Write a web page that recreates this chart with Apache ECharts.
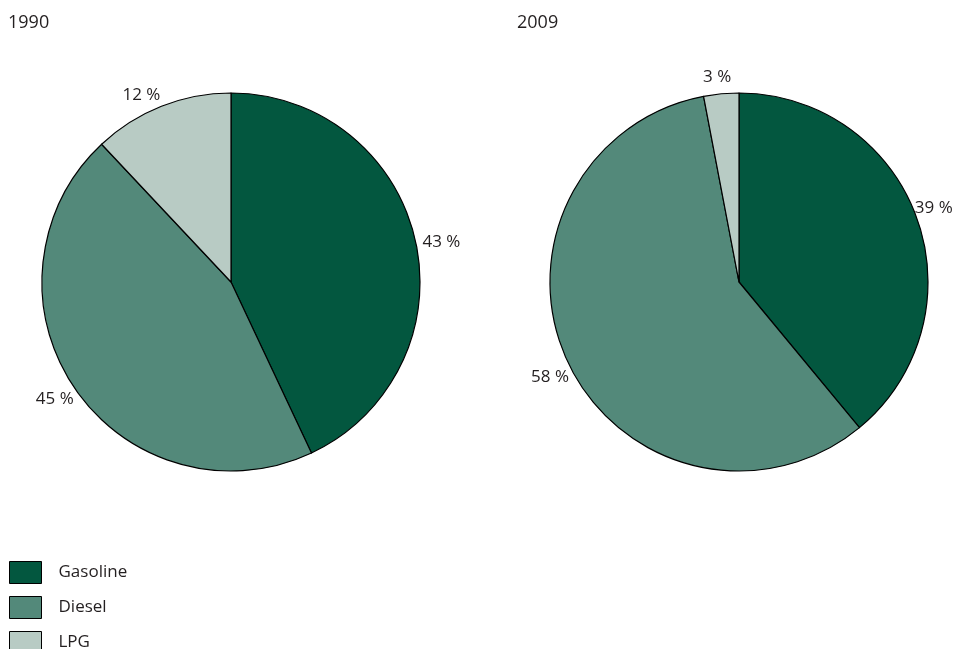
<!DOCTYPE html>
<html>
<head>
<meta charset="utf-8">
<script src="https://cdn.jsdelivr.net/npm/echarts@6/dist/echarts.min.js"></script>
<style>
  html, body { margin: 0; padding: 0; background: #fff; }
  #chart { width: 960px; height: 649px; }
</style>
</head>
<body>
<div id="chart"></div>
<script>
// Fuel shares of road transport, two years side by side
const fuels = ['Gasoline', 'Diesel', 'LPG'];
const years = ['1990', '2009'];
const share1990 = [43, 45, 12];
const share2009 = [39, 58, 3];
const fuelColors = ['#03573f', '#53897a', '#b8cbc4'];

// nudges for the percentage labels, per year and fuel
const labelNudge = [
  [[6, 1], [0, 11], [0, -11]],
  [[-3, -10], [2, 15], [11, -17]]
];

const FONT = '"Open Sans", "Noto Sans", sans-serif';
const TEXT = '#231f20';

function pieSeries(values, yearIdx, cx) {
  return {
    type: 'pie',
    name: years[yearIdx],
    center: [cx, 282],
    radius: [0, 189],
    startAngle: 90,
    clockwise: true,
    avoidLabelOverlap: false,
    silent: true,
    itemStyle: { borderColor: '#000', borderWidth: 1.2 },
    label: {
      show: true,
      position: 'outside',
      formatter: '{c} %',
      fontFamily: FONT,
      fontSize: 17,
      color: TEXT,
      distanceToLabelLine: 1
    },
    labelLine: { show: false, length: 0, length2: 0 },
    labelLayout: function (p) {
      const n = labelNudge[yearIdx][p.dataIndex];
      return { dx: n[0], dy: n[1] };
    },
    data: fuels.map((f, i) => ({ name: f, value: values[i] }))
  };
}

const titleStyle = { fontFamily: FONT, fontSize: 18, fontWeight: 'normal', color: TEXT };

const chart = echarts.init(document.getElementById('chart'));
chart.setOption({
  animation: false,
  color: fuelColors,
  title: [
    { text: years[0], left: 8, top: 14, padding: 0, textStyle: titleStyle },
    { text: years[1], left: 517, top: 14, padding: 0, textStyle: titleStyle }
  ],
  legend: {
    orient: 'vertical',
    left: 9,
    top: 561,
    height: 120,
    padding: 0,
    itemWidth: 32,
    itemHeight: 22,
    itemGap: 12,
    icon: 'rect',
    selectedMode: false,
    itemStyle: { borderColor: '#000', borderWidth: 1 },
    textStyle: { fontFamily: FONT, fontSize: 17, color: TEXT, padding: [2, 0, 0, 12] },
    data: fuels
  },
  series: [
    pieSeries(share1990, 0, 231),
    pieSeries(share2009, 1, 739)
  ]
});
</script>
</body>
</html>
